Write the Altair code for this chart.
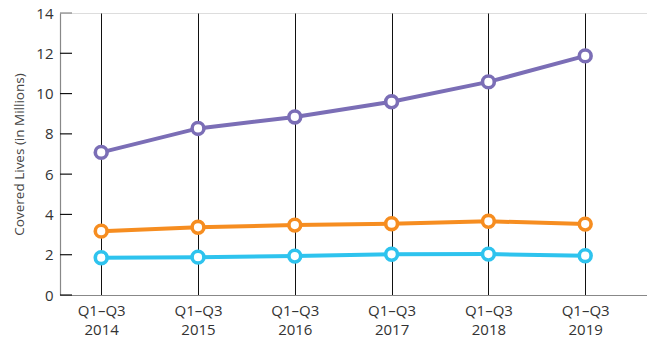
import altair as alt
import pandas as pd

periods = ["Q1–Q3|2014", "Q1–Q3|2015", "Q1–Q3|2016", "Q1–Q3|2017", "Q1–Q3|2018", "Q1–Q3|2019"]
series_names = ["Series 1", "Series 2", "Series 3"]
series_1 = [7.08, 8.27, 8.84, 9.59, 10.58, 11.87]
series_2 = [3.17, 3.36, 3.47, 3.54, 3.66, 3.52]
series_3 = [1.85, 1.88, 1.93, 2.02, 2.03, 1.95]
series_colors = ["#7B6EB6", "#F68D20", "#2EC3EE"]
y_ticks = [0, 2, 4, 6, 8, 10, 12, 14]

rows = []
for name, vals in zip(series_names, [series_1, series_2, series_3]):
    for p, v in zip(periods, vals):
        rows.append({"period": p, "series": name, "value": v})
df = pd.DataFrame(rows)
ticks_df = pd.DataFrame({"v": y_ticks})

FONT = "Open Sans"

x_enc = alt.X(
    "period:N",
    sort=periods,
    scale=alt.Scale(type="point", padding=0.532, align=0.4),
    axis=alt.Axis(
        title=None,
        labelExpr="split(datum.label, '|')",
        labelAngle=0,
        labelFont=FONT,
        labelFontSize=15,
        labelColor="#333333",
        labelLineHeight=19,
        labelPadding=8,
        labelBaseline="top",
        ticks=False,
        domainColor="#888888",
        domainWidth=1.2,
        grid=True,
        gridColor="#111111",
        gridWidth=1,
        gridOpacity=1,
    ),
)

y_scale = alt.Scale(domain=[0, 14], nice=False)

lines = alt.Chart(df).mark_line(
    strokeWidth=4,
    point=alt.OverlayMarkDef(filled=False, fill="white", size=140, strokeWidth=3.6, opacity=1),
).encode(
    x=x_enc,
    y=alt.Y(
        "value:Q",
        scale=y_scale,
        axis=alt.Axis(
            values=y_ticks,
            title="Covered Lives (in Millions)",
            titleFont=FONT,
            titleFontSize=13.5,
            titleFontWeight="normal",
            titleColor="#444444",
            titleX=-41,
            titleY=141,
            titleAngle=-90,
            titleAlign="center",
            titleBaseline="middle",
            labelFont=FONT,
            labelFontSize=15,
            labelColor="#333333",
            labelPadding=7,
            ticks=False,
            domainColor="#888888",
            domainWidth=1.2,
            grid=False,
        ),
    ),
    color=alt.Color(
        "series:N",
        sort=series_names,
        scale=alt.Scale(domain=series_names, range=series_colors),
        legend=None,
    ),
    detail="series:N",
)

tick_marks = alt.Chart(ticks_df).mark_rule(strokeWidth=1.2).encode(
    y=alt.Y("v:Q", scale=y_scale),
    x=alt.value(0),
    x2=alt.value(12),
    color=alt.condition(alt.datum.v == 14, alt.value("#888888"), alt.value("#111111")),
)

chart = alt.layer(tick_marks, lines).properties(
    width=587,
    height=282,
    autosize=alt.AutoSizeParams(type="none"),
    padding={"left": 60, "top": 13, "right": 0, "bottom": 43},
).configure_view(stroke=None).configure(background="white")

chart.save("out.html", embed_options={"renderer": "svg", "actions": False})
